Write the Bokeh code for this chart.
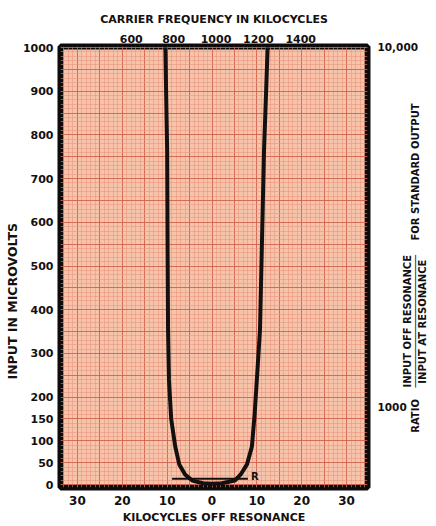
from math import pi
from bokeh.plotting import figure
from bokeh.models import (Range1d, LinearAxis, LogAxis, LogScale, FixedTicker,
                          Label, Grid, Title)
from bokeh.embed import file_html
from bokeh.resources import INLINE

# ---------------- data ----------------
# selectivity curve: kilocycles off resonance vs. input in microvolts
curve_kc = [-10.4, -10.2, -10.0, -9.9, -9.8, -9.6, -9.1, -8.2, -7.3, -6.0, -4.4,
            -2.0, 0.0, 2.2, 5.1, 6.4, 7.8, 8.9, 9.5, 10.0, 10.7, 11.1, 11.6, 12.0, 12.4]
curve_uv = [1000, 880, 765, 537, 354, 240, 150, 87, 46, 23, 9,
            3, 2, 3, 9, 23, 46, 87, 160, 240, 354, 537, 765, 880, 1000]

# resonance reference line "R"
res_kc = [-8.9, 8.0]
res_uv = [13, 13]

# axes
uv_ticks = [0, 50, 100, 150, 200, 300, 400, 500, 600, 700, 800, 900, 1000]
kc_ticks = [-30, -20, -10, 0, 10, 20, 30]
kc_labels = ["30", "20", "10", "0", "10", "20", "30"]
freq_ticks = [600, 800, 1000, 1200, 1400]
ratio_ticks = [1000, 10000]
ratio_labels = ["1000", "10,000"]

# ---------------- layout / style ----------------
FONT = "DejaVu Sans"
INK = "#141010"
# where the rotated right-hand caption pieces start (in microvolt units of the y axis)
RATIO_AT, FOR_AT, NUM_AT, BAR_AT, DEN_AT = 118.3, 558.4, 222.2, 222.2, 230.8

p = figure(width=436, height=526, output_backend="svg", toolbar_location=None,
           x_axis_type=None, y_axis_type=None,
           x_range=Range1d(-33.78, 34.67), y_range=Range1d(-6.85, 1002.3),
           min_border_left=60, min_border_right=68, min_border_top=46,
           min_border_bottom=38)
p.background_fill_color = "#f6c4ab"
p.border_fill_color = "white"
p.outline_line_color = "#0c0a0a"
p.outline_line_width = 6

p.extra_x_ranges = {"carrier": Range1d(265.9, 1715.3)}
p.extra_y_ranges = {"ratio": Range1d(595.6, 10064)}
p.extra_y_scales = {"ratio": LogScale()}

# graph-paper grid
xg = Grid(dimension=0, ticker=FixedTicker(ticks=list(range(-35, 40, 5)),
                                          minor_ticks=list(range(-35, 36))))
yg = Grid(dimension=1, ticker=FixedTicker(ticks=list(range(0, 1050, 50)),
                                          minor_ticks=list(range(0, 1010, 10))))
for g in (xg, yg):
    g.grid_line_color = "#c95a44"
    g.grid_line_width = 1
    g.grid_line_alpha = 0.75
    g.minor_grid_line_color = "#e8937a"
    g.minor_grid_line_width = 0.8
    g.minor_grid_line_alpha = 0.7
    p.add_layout(g, "center")


def style(ax, standoff, size="11px"):
    ax.axis_line_color = None
    ax.major_tick_line_color = None
    ax.minor_tick_line_color = None
    ax.major_tick_in = 0
    ax.major_tick_out = 0
    ax.major_label_text_font = FONT
    ax.major_label_text_font_style = "bold"
    ax.major_label_text_font_size = size
    ax.major_label_text_color = INK
    ax.major_label_standoff = standoff
    ax.axis_label_text_font = FONT
    ax.axis_label_text_font_style = "bold"
    ax.axis_label_text_font_size = "11px"
    ax.axis_label_text_color = INK


left = LinearAxis(ticker=FixedTicker(ticks=uv_ticks))
style(left, 7)
p.add_layout(left, "left")
p.add_layout(Title(text="INPUT IN MICROVOLTS", align="left", offset=108, standoff=0,
                   text_font=FONT, text_font_style="bold", text_font_size="12.5px",
                   text_color=INK), "left")

bottom = LinearAxis(ticker=FixedTicker(ticks=kc_ticks),
                    major_label_overrides=dict(zip(kc_ticks, kc_labels)),
                    axis_label="KILOCYCLES OFF RESONANCE")
style(bottom, 8, "12px")
bottom.axis_label_standoff = 3
p.add_layout(bottom, "below")

top = LinearAxis(x_range_name="carrier", ticker=FixedTicker(ticks=freq_ticks),
                 axis_label="CARRIER FREQUENCY IN KILOCYCLES")
style(top, 4)
top.axis_label_standoff = 6
p.add_layout(top, "above")

right = LogAxis(y_range_name="ratio", ticker=FixedTicker(ticks=ratio_ticks),
                major_label_overrides=dict(zip(ratio_ticks, ratio_labels)))
style(right, 10, "10.5px")
p.add_layout(right, "right")

# rotated caption on the right: RATIO  (INPUT OFF RESONANCE / INPUT AT RESONANCE)  FOR STANDARD OUTPUT
caption_rows = [
    ([NUM_AT], ["INPUT OFF RESONANCE"], -14),
    ([RATIO_AT, BAR_AT, FOR_AT], ["RATIO", "\u2500" * 22, "FOR STANDARD OUTPUT"], -6),
    ([DEN_AT], ["INPUT AT RESONANCE"], -7),
]
for ticks, texts, standoff in caption_rows:
    ax = LinearAxis(ticker=FixedTicker(ticks=ticks),
                    major_label_overrides=dict(zip(ticks, texts)),
                    major_label_orientation=pi / 2)
    style(ax, standoff, "10px")
    p.add_layout(ax, "right")

# curve and resonance line
p.line(curve_kc, curve_uv, line_color=INK, line_width=4, line_join="round")
p.line(res_kc, res_uv, line_color=INK, line_width=2)
p.add_layout(Label(x=res_kc[1] + 0.7, y=res_uv[0] + 5, text="R", text_font=FONT,
                   text_font_style="bold", text_font_size="10px", text_color=INK,
                   text_align="left", text_baseline="middle"))

open("out.html", "w").write(file_html(p, INLINE))
